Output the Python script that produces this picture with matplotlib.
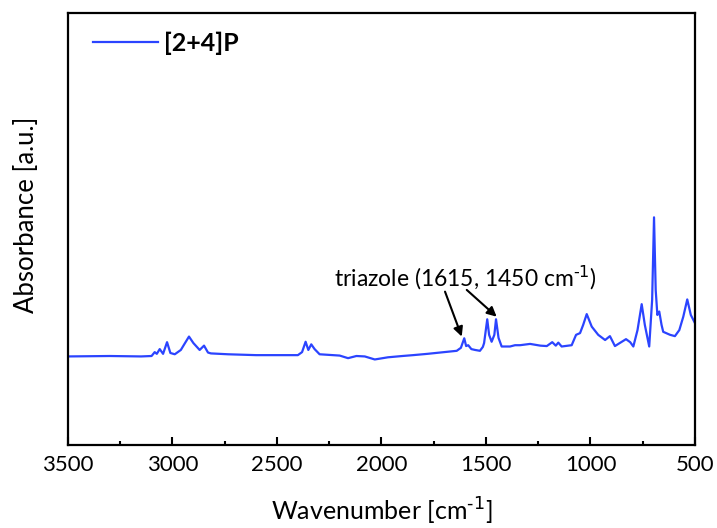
import matplotlib
matplotlib.use("Agg")
from matplotlib import pyplot as plt
from matplotlib.ticker import MultipleLocator
import numpy as np

# FTIR spectrum of [2+4]P (a.u.)
wavenumber = [3500, 3300, 3150, 3100, 3085, 3075, 3061, 3045, 3026, 3010,
              2989, 2960, 2940, 2921, 2900, 2870, 2849, 2830, 2816, 2734,
              2600, 2400, 2380, 2363, 2350, 2336, 2320, 2296, 2200, 2160,
              2120, 2080, 2032, 1969, 1900, 1849, 1780, 1720, 1640, 1620,
              1604, 1595, 1585, 1570, 1552, 1529, 1515, 1509, 1494, 1485,
              1473, 1460, 1452, 1440, 1425, 1385, 1361, 1337, 1289, 1240,
              1209, 1183, 1166, 1154, 1138, 1090, 1069, 1050, 1035, 1018,
              994, 963, 930, 907, 883, 860, 830, 810, 795, 775,
              755, 740, 719, 705, 696, 688, 680, 671, 660, 652,
              619, 596, 575, 556, 537, 520, 500]
absorbance = [20.5, 20.6, 20.5, 20.6, 21.5, 21.1, 22.2, 21.1, 23.8, 21.3,
              21.0, 22.0, 23.6, 25.1, 23.6, 22.0, 23.0, 21.4, 21.2, 21.0,
              20.8, 20.8, 21.5, 23.9, 22.0, 23.3, 22.2, 21.0, 20.7, 20.1,
              20.6, 20.5, 19.8, 20.3, 20.6, 20.8, 21.1, 21.4, 21.8, 22.5,
              24.7, 22.9, 23.1, 22.2, 22.0, 21.8, 22.7, 23.6, 29.1, 25.5,
              23.9, 25.5, 29.1, 24.8, 22.8, 22.8, 23.1, 23.1, 23.4, 23.0,
              22.9, 23.8, 23.0, 23.7, 22.8, 23.1, 25.5, 25.9, 27.8, 30.3,
              27.4, 25.5, 24.3, 25.2, 22.9, 23.6, 24.5, 23.8, 22.8, 26.6,
              32.6, 27.8, 22.8, 33.6, 52.7, 35.9, 30.1, 30.9, 27.8, 26.2,
              25.5, 25.2, 26.6, 29.7, 33.7, 30.1, 28.2]

font = "Lato"
plt.rcParams['font.family'] = [font, 'DejaVu Sans']

fig = plt.figure(figsize=(7.17, 5.28), dpi=100)
ax = fig.add_axes([0.0948, 0.1572, 0.8745, 0.8182])

ax.plot(wavenumber, absorbance, color="#2b44ff", lw=1.6, label="[2+4]P")

ax.set_xlim(3500, 500)
ax.set_ylim(0, 100)
ax.xaxis.set_major_locator(MultipleLocator(500))
ax.xaxis.set_minor_locator(MultipleLocator(250))
ax.tick_params(axis='x', which='major', direction='in', length=6, width=1.5,
               labelsize=16, pad=7)
ax.tick_params(axis='x', which='minor', direction='in', length=3, width=1.5)
ax.set_yticks([])
for s in ax.spines.values():
    s.set_linewidth(1.6)

ax.set_xlabel(r"Wavenumber [cm$^{\text{-1}}$]", fontsize=18, labelpad=15)
ax.set_ylabel("Absorbance [a.u.]", fontsize=18.5)
ax.yaxis.set_label_coords(-0.047, 0.532)

leg = ax.legend(loc="upper left", bbox_to_anchor=(0.01, 1.0), frameon=False,
                handlelength=2.6, handletextpad=0.25, borderaxespad=0.35,
                prop={"family": font, "weight": "bold", "size": 18})

ax.text(1600, 38.7, r"triazole (1615, 1450 cm$^{\text{-1}}$)",
        fontsize=16.5, ha="center", va="center")
arrow = dict(arrowstyle="-|>", color="k", lw=1.5, mutation_scale=14,
             shrinkA=0, shrinkB=0)
ax.annotate("", xy=(1616, 25.1), xytext=(1696, 35.5), arrowprops=arrow)
ax.annotate("", xy=(1449, 29.7), xytext=(1592, 35.9), arrowprops=arrow)

plt.savefig("out.png", dpi=100)
